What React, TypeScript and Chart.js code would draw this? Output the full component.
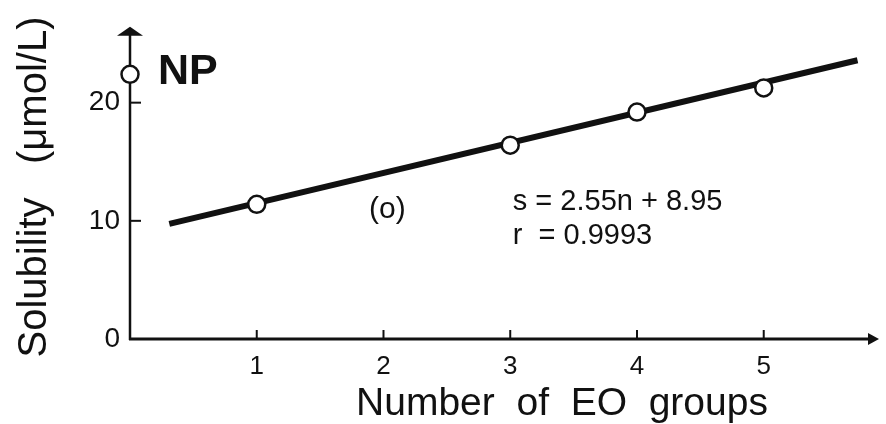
import { useEffect, useRef } from "react";
import { Chart, registerables } from "chart.js";

Chart.register(...registerables);

// Measured solubility against number of EO groups
const eoGroups = [1, 3, 4, 5];
const solubility = [11.4, 16.4, 19.2, 21.25];

// Parent nonylphenol (no EO groups), plotted on the y axis
const npGroups = [0];
const npSolubility = [22.4];

// Regression line s = a·n + b and its correlation coefficient
const slope = 2.55;
const intercept = 8.95;
const correlation = 0.9993;
const fitRange = [0.31, 5.74];

// Axis ticks
const xTicks = [1, 2, 3, 4, 5];
const yTicks = [0, 10, 20];

const FONT = "'Liberation Sans', Arial, Helvetica, sans-serif";
const INK = "#111";

const axesPlugin = {
  id: "arrowAxes",
  beforeDatasetsDraw(chart: any) {
    const { ctx, chartArea, scales } = chart;
    const x = scales.x;
    const y = scales.y;
    const x0 = x.getPixelForValue(0);
    const y0 = y.getPixelForValue(0);
    ctx.save();
    ctx.strokeStyle = INK;
    ctx.fillStyle = INK;
    ctx.lineCap = "butt";

    // vertical axis with arrow head
    ctx.lineWidth = 2.5;
    ctx.beginPath();
    ctx.moveTo(x0, y0 + 1);
    ctx.lineTo(x0, chartArea.top + 6);
    ctx.stroke();
    ctx.beginPath();
    ctx.moveTo(x0, chartArea.top);
    ctx.lineTo(x0 - 13, chartArea.top + 9);
    ctx.lineTo(x0 + 13, chartArea.top + 9);
    ctx.closePath();
    ctx.fill();

    // horizontal axis with arrow head
    ctx.lineWidth = 3;
    ctx.beginPath();
    ctx.moveTo(x0 - 1, y0);
    ctx.lineTo(chartArea.right - 4, y0);
    ctx.stroke();
    ctx.beginPath();
    ctx.moveTo(chartArea.right + 5, y0);
    ctx.lineTo(chartArea.right - 6, y0 - 6);
    ctx.lineTo(chartArea.right - 6, y0 + 6);
    ctx.closePath();
    ctx.fill();

    // inward tick marks
    ctx.lineWidth = 2;
    yTicks.filter((v) => v > 0).forEach((v) => {
      const py = y.getPixelForValue(v);
      ctx.beginPath();
      ctx.moveTo(x0, py);
      ctx.lineTo(x0 + 11, py);
      ctx.stroke();
    });
    xTicks.forEach((v) => {
      const px = x.getPixelForValue(v);
      ctx.beginPath();
      ctx.moveTo(px, y0);
      ctx.lineTo(px, y0 - 9);
      ctx.stroke();
    });
    ctx.restore();
  },
  afterDraw(chart: any) {
    const { ctx, scales } = chart;
    const x = scales.x;
    const y = scales.y;
    ctx.save();
    ctx.fillStyle = INK;

    // compound label next to the NP point
    ctx.font = `bold 43px ${FONT}`;
    ctx.textAlign = "left";
    ctx.textBaseline = "middle";
    ctx.fillText("NP", x.getPixelForValue(0.22), y.getPixelForValue(22.6));

    // series marker
    ctx.font = `30px ${FONT}`;
    ctx.textAlign = "center";
    ctx.fillText("(o)", x.getPixelForValue(2.03), y.getPixelForValue(10.9));

    // regression equation
    ctx.font = `29px ${FONT}`;
    ctx.textAlign = "left";
    ctx.fillText(`s = ${slope}n + ${intercept}`, x.getPixelForValue(3.02), y.getPixelForValue(11.6));
    ctx.fillText(`r  = ${correlation}`, x.getPixelForValue(3.02), y.getPixelForValue(8.75));

    // axis titles
    ctx.font = `39px ${FONT}`;
    ctx.textAlign = "center";
    ctx.textBaseline = "alphabetic";
    ctx.fillText("Number  of  EO  groups", 562, 415);

    ctx.save();
    ctx.translate(46, 187);
    ctx.rotate(-Math.PI / 2);
    ctx.font = `40px ${FONT}`;
    ctx.fillText("Solubility   (μmol/L)", 0, 0);
    ctx.restore();

    ctx.restore();
  },
};

export default function App() {
  const canvasRef = useRef<HTMLCanvasElement | null>(null);

  useEffect(() => {
    const canvas = canvasRef.current;
    if (!canvas) return;

    const pointStyle = {
      showLine: false,
      pointRadius: 8.5,
      pointHoverRadius: 8.5,
      pointBackgroundColor: "#fff",
      pointBorderColor: INK,
      pointBorderWidth: 2.5,
      clip: false as const,
    };

    const chart = new Chart(canvas, {
      type: "scatter",
      data: {
        datasets: [
          {
            label: "EO adducts",
            data: eoGroups.map((n, i) => ({ x: n, y: solubility[i] })),
            ...pointStyle,
          },
          {
            label: "NP",
            data: npGroups.map((n, i) => ({ x: n, y: npSolubility[i] })),
            ...pointStyle,
          },
          {
            label: "fit",
            data: fitRange.map((n) => ({ x: n, y: slope * n + intercept })),
            showLine: true,
            borderColor: INK,
            borderWidth: 6,
            borderCapStyle: "butt",
            pointRadius: 0,
            pointHoverRadius: 0,
            clip: false as const,
          },
        ],
      },
      options: {
        animation: false,
        responsive: false,
        events: [],
        layout: { padding: { top: 22, right: 6, left: 0, bottom: 0 } },
        plugins: {
          legend: { display: false },
          tooltip: { enabled: false },
          title: { display: false },
        },
        scales: {
          x: {
            type: "linear",
            min: 0,
            max: 5.87,
            grid: { display: false, drawTicks: false },
            border: { display: false },
            afterFit: (s: any) => {
              s.height = 85;
            },
            ticks: {
              stepSize: 1,
              padding: 12,
              color: INK,
              font: { family: FONT, size: 26 },
              callback: (v: any) => (xTicks.includes(Number(v)) ? String(v) : ""),
            },
          },
          y: {
            type: "linear",
            min: 0,
            max: 26.42,
            grid: { display: false, drawTicks: false },
            border: { display: false },
            afterFit: (s: any) => {
              s.width = 130;
            },
            ticks: {
              stepSize: 10,
              padding: 10,
              color: INK,
              font: { family: FONT, size: 28 },
              callback: (v: any) => (yTicks.includes(Number(v)) ? String(v) : ""),
            },
          },
        },
      },
      plugins: [axesPlugin],
    });

    return () => chart.destroy();
  }, []);

  return (
    <div style={{ position: "fixed", left: 0, top: 0, width: 886, height: 424, background: "#fff" }}>
      <canvas ref={canvasRef} width={886} height={424} style={{ display: "block" }} />
    </div>
  );
}
